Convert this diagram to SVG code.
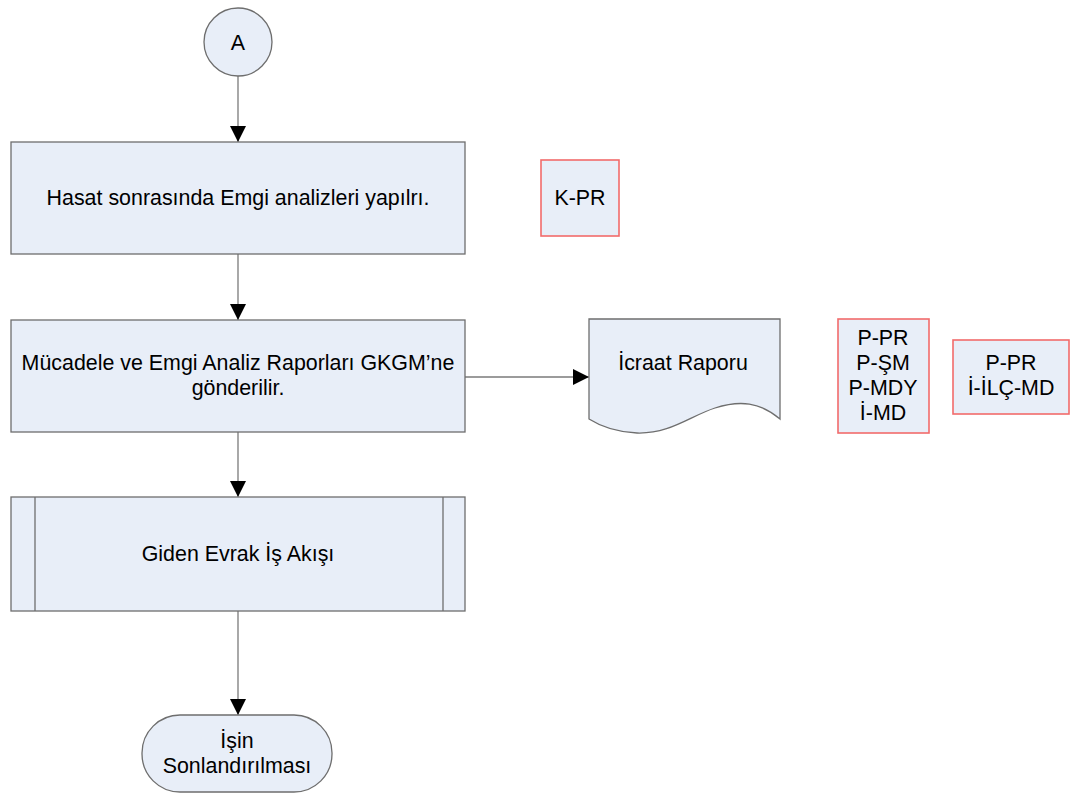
<svg xmlns="http://www.w3.org/2000/svg" width="1084" height="803" viewBox="0 0 1084 803">
<style>
.n{fill:#e8eef8;stroke:#6e6e6e;stroke-width:1.3}
.r{fill:#e8eef8;stroke:#f26b6b;stroke-width:1.6}
.c{fill:none;stroke:#7a7a7a;stroke-width:1.3}
text{font-family:"Liberation Sans",Arial,sans-serif;font-size:21.4px;fill:#000;text-anchor:middle}
</style>
<defs>
<marker id="ah" markerUnits="userSpaceOnUse" markerWidth="18" markerHeight="18" refX="16" refY="8" orient="auto">
<path d="M0,0 L16,8 L0,16 Z" fill="#000"/>
</marker>
</defs>
<rect width="1084" height="803" fill="#fff"/>
<g id="connectors">
<line class="c" x1="238" y1="76" x2="238" y2="142" marker-end="url(#ah)"/>
<line class="c" x1="238" y1="254" x2="238" y2="320" marker-end="url(#ah)"/>
<line class="c" x1="238" y1="432" x2="238" y2="497" marker-end="url(#ah)"/>
<line class="c" x1="238" y1="611" x2="238" y2="715" marker-end="url(#ah)"/>
<line class="c" x1="465" y1="377" x2="589" y2="377" marker-end="url(#ah)"/>
</g>
<g id="nodeA">
<circle class="n" cx="238" cy="42" r="34"/>
<text x="238" y="50">A</text>
</g>
<g id="box1">
<rect class="n" x="11" y="142" width="454" height="112"/>
<text x="238" y="205">Hasat sonrasında Emgi analizleri yapılrı.</text>
</g>
<g id="kpr">
<rect class="r" x="541" y="160" width="78" height="76"/>
<text x="580" y="205">K-PR</text>
</g>
<g id="box2">
<rect class="n" x="11" y="320" width="454" height="112"/>
<text x="238" y="370">Mücadele ve Emgi Analiz Raporları GKGM’ne</text>
<text x="238" y="395">gönderilir.</text>
</g>
<g id="doc">
<path class="n" d="M589,319 H780 V419 C760,402 740,400 715,408 C690,416 670,434 637,433 C615,432 600,426 589,419 Z"/>
<text x="683" y="370">İcraat Raporu</text>
</g>
<g id="roles1">
<rect class="r" x="838" y="319" width="91" height="114"/>
<text x="883" y="345">P-PR</text>
<text x="883" y="370">P-ŞM</text>
<text x="883" y="395">P-MDY</text>
<text x="883" y="420">İ-MD</text>
</g>
<g id="roles2">
<rect class="r" x="953" y="340" width="116" height="74"/>
<text x="1011" y="370">P-PR</text>
<text x="1011" y="395">İ-İLÇ-MD</text>
</g>
<g id="box3">
<rect class="n" x="11" y="497" width="454" height="114"/>
<line class="n" x1="35" y1="497" x2="35" y2="611"/>
<line class="n" x1="443" y1="497" x2="443" y2="611"/>
<text x="238" y="561">Giden Evrak İş Akışı</text>
</g>
<g id="end">
<rect class="n" x="142" y="715" width="190" height="77" rx="38" ry="38"/>
<text x="237" y="748">İşin</text>
<text x="237" y="773">Sonlandırılması</text>
</g>
</svg>
